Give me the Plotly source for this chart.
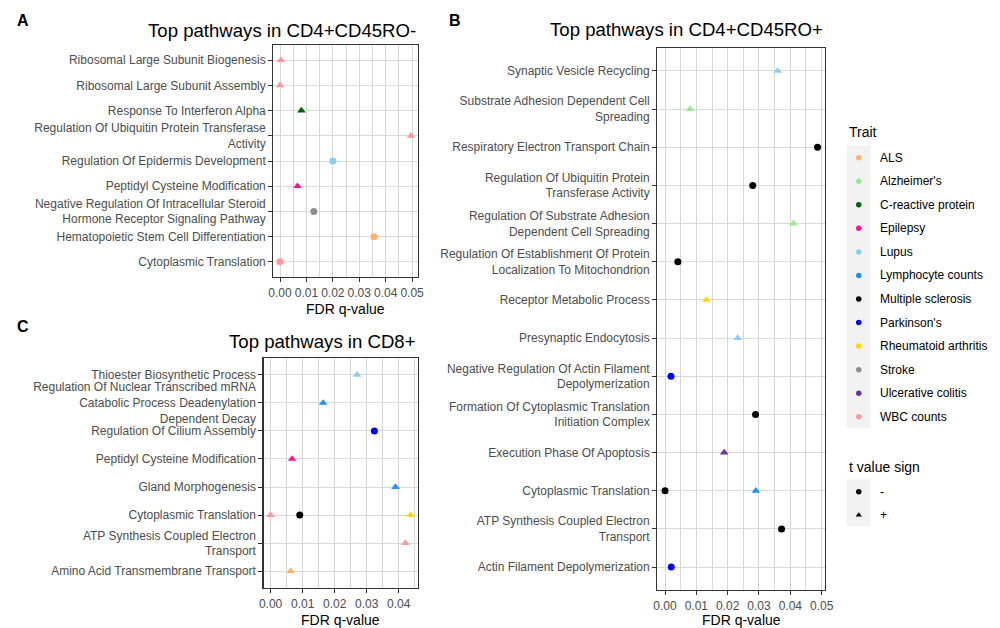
import plotly.graph_objects as go

# ---------------- data ----------------
traits = ["ALS", "Alzheimer's", "C-reactive protein", "Epilepsy", "Lupus",
          "Lymphocyte counts", "Multiple sclerosis", "Parkinson's",
          "Rheumatoid arthritis", "Stroke", "Ulcerative colitis", "WBC counts"]
trait_colors = ["#FFB366", "#90EE90", "#006400", "#FF1493", "#87CEFA",
                "#1E90FF", "#000000", "#0000FF", "#FFD700", "#8C8C8C",
                "#663399", "#FF9999"]
signs = ["-", "+"]
sign_symbols = ["circle", "triangle-up"]

# Panel A: CD4+CD45RO-
a_pathways = ["Ribosomal Large Subunit Biogenesis",
              "Ribosomal Large Subunit Assembly",
              "Response To Interferon Alpha",
              "Regulation Of Ubiquitin Protein Transferase<br>Activity",
              "Regulation Of Epidermis Development",
              "Peptidyl Cysteine Modification",
              "Negative Regulation Of Intracellular Steroid<br>Hormone Receptor Signaling Pathway",
              "Hematopoietic Stem Cell Differentiation",
              "Cytoplasmic Translation"]
a_point_idx = [0, 1, 2, 3, 4, 5, 6, 7, 8]
a_fdr = [0.0003, 0.0000, 0.0081, 0.0496, 0.0200, 0.0066, 0.0128, 0.0356, 0.0000]
a_trait = ["WBC counts", "WBC counts", "C-reactive protein", "WBC counts", "Lupus",
           "Epilepsy", "Stroke", "ALS", "WBC counts"]
a_sign = ["+", "+", "+", "+", "-", "+", "-", "-", "-"]

# Panel B: CD4+CD45RO+
b_pathways = ["Synaptic Vesicle Recycling",
              "Substrate Adhesion Dependent Cell<br>Spreading",
              "Respiratory Electron Transport Chain",
              "Regulation Of Ubiquitin Protein<br>Transferase Activity",
              "Regulation Of Substrate Adhesion<br>Dependent Cell Spreading",
              "Regulation Of Establishment Of Protein<br>Localization To Mitochondrion",
              "Receptor Metabolic Process",
              "Presynaptic Endocytosis",
              "Negative Regulation Of Actin Filament<br>Depolymerization",
              "Formation Of Cytoplasmic Translation<br>Initiation Complex",
              "Execution Phase Of Apoptosis",
              "Cytoplasmic Translation",
              "ATP Synthesis Coupled Electron<br>Transport",
              "Actin Filament Depolymerization"]
b_point_idx = [0, 1, 2, 3, 4, 5, 6, 7, 8, 9, 10, 11, 11, 12, 13]
b_fdr = [0.0360, 0.0080, 0.0487, 0.0280, 0.0410, 0.0041, 0.0132, 0.0232,
         0.0019, 0.0289, 0.0189, 0.0000, 0.0290, 0.0372, 0.0020]
b_trait = ["Lupus", "Alzheimer's", "Multiple sclerosis", "Multiple sclerosis",
           "Alzheimer's", "Multiple sclerosis", "Rheumatoid arthritis", "Lupus",
           "Parkinson's", "Multiple sclerosis", "Ulcerative colitis",
           "Multiple sclerosis", "Lymphocyte counts", "Multiple sclerosis", "Parkinson's"]
b_sign = ["+", "+", "-", "-", "+", "-", "+", "+", "-", "-", "+", "-", "+", "-", "-"]

# Panel C: CD8+
c_pathways = ["Thioester Biosynthetic Process",
              "Regulation Of Nuclear Transcribed mRNA<br>Catabolic Process Deadenylation<br>Dependent Decay",
              "Regulation Of Cilium Assembly",
              "Peptidyl Cysteine Modification",
              "Gland Morphogenesis",
              "Cytoplasmic Translation",
              "ATP Synthesis Coupled Electron<br>Transport",
              "Amino Acid Transmembrane Transport"]
c_point_idx = [0, 1, 2, 3, 4, 5, 5, 5, 6, 7]
c_fdr = [0.0270, 0.0164, 0.0324, 0.0067, 0.0390, 0.0000, 0.0091, 0.0437, 0.0421, 0.0062]
c_trait = ["Lupus", "Lymphocyte counts", "Parkinson's", "Epilepsy", "Lymphocyte counts",
           "WBC counts", "Multiple sclerosis", "Rheumatoid arthritis", "WBC counts", "ALS"]
c_sign = ["+", "+", "-", "+", "+", "+", "-", "+", "+", "+"]

titles = ["Top pathways in CD4+CD45RO-", "Top pathways in CD4+CD45RO+", "Top pathways in CD8+"]
panel_letters = ["A", "B", "C"]
x_title = "FDR q-value"
legend_titles = ["Trait", "t value sign"]

# ---------------- layout constants (pixels) ----------------
W, H = 1000, 628
FONT = "Liberation Sans, Arial, sans-serif"
color_of = dict(zip(traits, trait_colors))
symbol_of = dict(zip(signs, sign_symbols))
size_of = {"circle": 7, "triangle-up": 7.5}

panels = [
    dict(path=a_pathways, idx=a_point_idx, fdr=a_fdr, trait=a_trait, sign=a_sign,
         px=(272, 418), py=(45, 277), title_y=30, letter=(18, 20), xlab_y=309),
    dict(path=b_pathways, idx=b_point_idx, fdr=b_fdr, trait=b_trait, sign=b_sign,
         px=(661, 831), py=(48, 590), title_y=29, letter=(456, 20), xlab_y=620),
    dict(path=c_pathways, idx=c_point_idx, fdr=c_fdr, trait=c_trait, sign=c_sign,
         px=(262, 418), py=(358, 588), title_y=341, letter=(18, 326), xlab_y=620),
]

fig = go.Figure()
grid_col = "#D9D9D9"
line_col = "#333333"
tickfont = dict(family=FONT, size=12, color="#4D4D4D")

annotations = []
for k, p in enumerate(panels):
    sx = "" if k == 0 else str(k + 1)
    n = len(p["path"])
    syms = [symbol_of[s] for s in p["sign"]]
    fig.add_trace(go.Scatter(
        x=p["fdr"], y=p["idx"], mode="markers",
        marker=dict(color=[color_of[t] for t in p["trait"]],
                    symbol=syms, size=[size_of[s] for s in syms], line=dict(width=0),
                    opacity=1),
        xaxis="x" + sx, yaxis="y" + sx, showlegend=False, hoverinfo="skip"))
    lo, hi = min(p["fdr"]), max(p["fdr"])
    pad = 0.05 * (hi - lo)
    xdom = [p["px"][0] / W, p["px"][1] / W]
    ydom = [1 - p["py"][1] / H, 1 - p["py"][0] / H]
    fig.layout["xaxis" + sx] = dict(
        domain=xdom, range=[lo - pad, hi + pad], anchor="y" + sx,
        showline=True, mirror=True, linecolor=line_col, linewidth=1.3,
        ticks="outside", ticklen=4, tickcolor=line_col, tickwidth=1,
        showgrid=True, gridcolor=grid_col, gridwidth=1, zeroline=False,
        tick0=0, dtick=0.01, tickformat=".2f", tickfont=tickfont,
        minor=dict(dtick=0.005, tick0=0, showgrid=True, gridcolor=grid_col, gridwidth=1, ticks=""),
        fixedrange=True)
    fig.layout["yaxis" + sx] = dict(
        domain=ydom, range=[n - 0.4, -0.6], anchor="x" + sx,
        tickvals=list(range(n)), ticktext=p["path"],
        showline=True, mirror=True, linecolor=line_col, linewidth=1.3,
        ticks="outside", ticklen=4, tickcolor=line_col, tickwidth=1,
        showgrid=True, gridcolor=grid_col, gridwidth=1, zeroline=False,
        tickfont=tickfont, fixedrange=True)
    annotations.append(dict(x=p["px"][1], y=p["title_y"], xref="x4", yref="y4",
                            text=titles[k], showarrow=False, xanchor="right", yanchor="middle",
                            font=dict(family=FONT, size=18.6, color="black")))
    annotations.append(dict(x=p["letter"][0], y=p["letter"][1], xref="x4", yref="y4",
                            text="<b>" + panel_letters[k] + "</b>", showarrow=False,
                            xanchor="center", yanchor="middle",
                            font=dict(family=FONT, size=16, color="black")))
    annotations.append(dict(x=(p["px"][0] + p["px"][1]) / 2, y=p["xlab_y"], xref="x4", yref="y4",
                            text=x_title, showarrow=False, xanchor="center", yanchor="middle",
                            font=dict(family=FONT, size=14, color="black")))

# ---------------- legend (pixel overlay axis) ----------------
fig.layout["xaxis4"] = dict(domain=[0, 1], range=[0, W], visible=False, fixedrange=True)
fig.layout["yaxis4"] = dict(domain=[0, 1], range=[H, 0], visible=False, fixedrange=True, anchor="x4")

key_x, lab_x, title_x = 865, 884, 853
trait_y0, trait_dy = 157.7, 23.55
sign_y0, sign_dy = 491.7, 23.4
shapes = [
    dict(type="rect", xref="x4", yref="y4", x0=853, x1=877,
         y0=trait_y0 - 12.5, y1=trait_y0 + trait_dy * (len(traits) - 1) + 11.5,
         fillcolor="#F2F2F2", line=dict(width=0), layer="below"),
    dict(type="rect", xref="x4", yref="y4", x0=853, x1=877,
         y0=sign_y0 - 12.5, y1=sign_y0 + sign_dy * (len(signs) - 1) + 11.5,
         fillcolor="#F2F2F2", line=dict(width=0), layer="below"),
]
ty = [trait_y0 + i * trait_dy for i in range(len(traits))]
fig.add_trace(go.Scatter(x=[key_x] * len(traits), y=ty, mode="markers",
                         marker=dict(color=trait_colors, symbol="circle", size=5.5),
                         xaxis="x4", yaxis="y4", showlegend=False, hoverinfo="skip"))
sy = [sign_y0 + i * sign_dy for i in range(len(signs))]
fig.add_trace(go.Scatter(x=[key_x] * len(signs), y=sy, mode="markers",
                         marker=dict(color="black", symbol=sign_symbols, size=5.5),
                         xaxis="x4", yaxis="y4", showlegend=False, hoverinfo="skip"))
for t, y in zip(traits, ty):
    annotations.append(dict(x=lab_x, y=y, xref="x4", yref="y4", text=t, showarrow=False,
                            xanchor="left", yanchor="middle",
                            font=dict(family=FONT, size=12, color="black")))
for s, y in zip(signs, sy):
    annotations.append(dict(x=lab_x, y=y, xref="x4", yref="y4", text=s, showarrow=False,
                            xanchor="left", yanchor="middle",
                            font=dict(family=FONT, size=12, color="black")))
annotations.append(dict(x=title_x, y=131.7, xref="x4", yref="y4", text=legend_titles[0],
                        showarrow=False, xanchor="left", yanchor="middle",
                        font=dict(family=FONT, size=14, color="black")))
annotations.append(dict(x=title_x, y=466.7, xref="x4", yref="y4", text=legend_titles[1],
                        showarrow=False, xanchor="left", yanchor="middle",
                        font=dict(family=FONT, size=14, color="black")))

fig.update_layout(width=W, height=H, margin=dict(l=0, r=0, t=0, b=0),
                  paper_bgcolor="white", plot_bgcolor="rgba(0,0,0,0)",
                  showlegend=False, annotations=annotations, shapes=shapes,
                  font=dict(family=FONT), hovermode=False)
fig.write_html("out.html", config={"displayModeBar": False, "staticPlot": True},
               post_script="document.body.style.margin='0';document.body.style.padding='0';"
                           "document.body.style.overflow='hidden';")
